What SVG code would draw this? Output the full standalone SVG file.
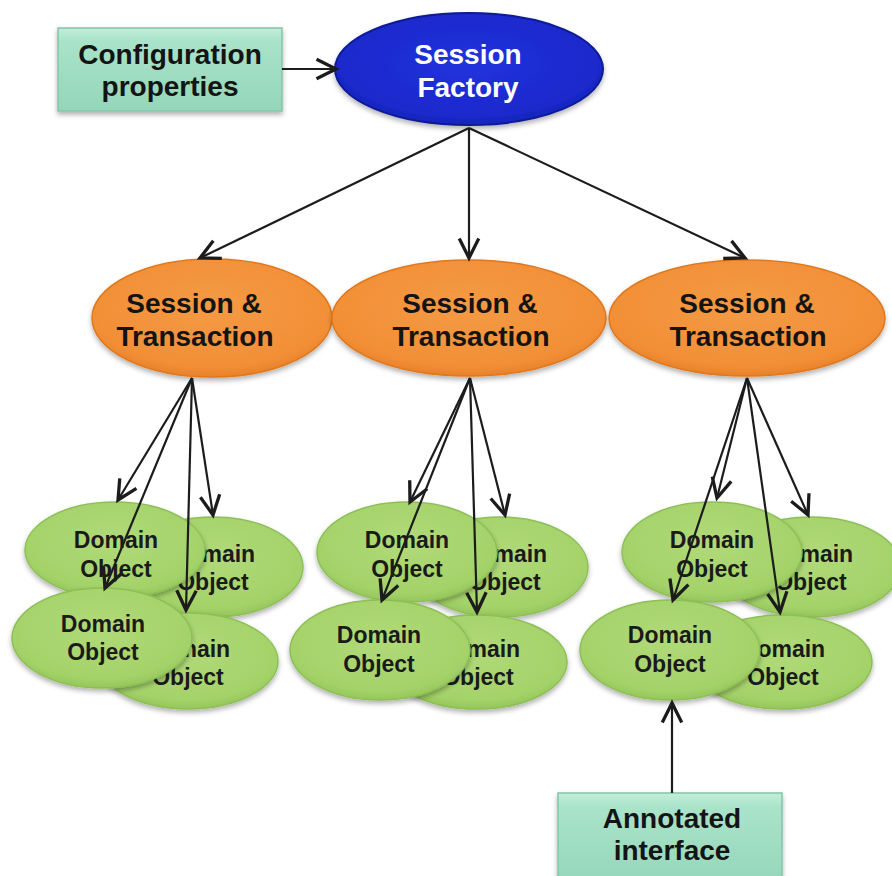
<svg xmlns="http://www.w3.org/2000/svg" width="892" height="876" viewBox="0 0 892 876">
  <defs>
    <style>
      .big { font-family: "Liberation Sans", Arial, sans-serif; font-weight: bold; font-size: 28px; text-anchor: middle; fill: #141414; }
      .white { fill: #ffffff; }
      .dom { font-family: "Liberation Sans", Arial, sans-serif; font-weight: bold; font-size: 23px; text-anchor: middle; fill: #1a1a1a; }
      .box { fill: url(#mint); stroke: #86c4a9; stroke-width: 1.5; filter: url(#shadow); }
      .factory { fill: url(#blue); stroke: #0d1a96; stroke-width: 2; filter: url(#shadow); }
      .session { fill: url(#orange); stroke: #e0781f; stroke-width: 1.5; filter: url(#shadow); }
      .domain { fill: url(#green); stroke: #8cbf56; stroke-width: 1.5; filter: url(#shadow); }
      .conn { fill: none; stroke: #1c1c1c; stroke-width: 2.2; marker-end: url(#arrow); }
    </style>
    <linearGradient id="mint" x1="0" y1="0" x2="0" y2="1">
      <stop offset="0" stop-color="#c3eedb"/>
      <stop offset="0.15" stop-color="#a9e3ca"/>
      <stop offset="1" stop-color="#94d6b9"/>
    </linearGradient>
    <radialGradient id="blue" cx="0.5" cy="0.45" r="0.6">
      <stop offset="0" stop-color="#2232dc"/>
      <stop offset="0.8" stop-color="#1b29cc"/>
      <stop offset="1" stop-color="#1020a8"/>
    </radialGradient>
    <radialGradient id="orange" cx="0.5" cy="0.4" r="0.6">
      <stop offset="0" stop-color="#f49a45"/>
      <stop offset="0.85" stop-color="#f28f36"/>
      <stop offset="1" stop-color="#e8822a"/>
    </radialGradient>
    <radialGradient id="green" cx="0.5" cy="0.4" r="0.6">
      <stop offset="0" stop-color="#b0da78"/>
      <stop offset="0.85" stop-color="#a4d26a"/>
      <stop offset="1" stop-color="#95c65a"/>
    </radialGradient>
    <filter id="shadow" x="-10%" y="-10%" width="120%" height="130%">
      <feDropShadow dx="0" dy="3" stdDeviation="2.5" flood-color="#000" flood-opacity="0.3"/>
    </filter>
    <marker id="arrow" markerUnits="userSpaceOnUse" markerWidth="30" markerHeight="30" viewBox="-16 -10 20 20" refX="0" refY="0" orient="auto">
      <path d="M-13,-6.5 L0,0 L-13,6.5" fill="none" stroke="#1c1c1c" stroke-width="2.2"/>
    </marker>
  </defs>

  <rect width="892" height="876" fill="#ffffff"/>

  <!-- top row -->
  <g id="config">
    <rect class="box" x="58" y="28" width="224" height="83"/>
    <text class="big" x="170" y="64">Configuration</text>
    <text class="big" x="170" y="96">properties</text>
  </g>
  <g id="factory">
    <ellipse class="factory" cx="469" cy="69" rx="134" ry="56"/>
    <text class="big white" x="468" y="64">Session</text>
    <text class="big white" x="468" y="97">Factory</text>
  </g>

  <!-- session & transaction row -->
  <g id="session1">
    <ellipse class="session" cx="212" cy="318" rx="120" ry="59"/>
    <text class="big" x="194" y="313">Session &amp;</text>
    <text class="big" x="195" y="346">Transaction</text>
  </g>
  <g id="session2">
    <ellipse class="session" cx="469" cy="318" rx="137" ry="58"/>
    <text class="big" x="470" y="313">Session &amp;</text>
    <text class="big" x="471" y="346">Transaction</text>
  </g>
  <g id="session3">
    <ellipse class="session" cx="747" cy="318" rx="138" ry="58"/>
    <text class="big" x="747" y="313">Session &amp;</text>
    <text class="big" x="748" y="346">Transaction</text>
  </g>

  <!-- domain objects, cluster 1 -->
  <g id="domain1-tr">
    <ellipse class="domain" cx="213" cy="567" rx="90" ry="50"/>
    <text class="dom" x="213" y="562">Domain</text>
    <text class="dom" x="213" y="590">Object</text>
  </g>
  <g id="domain1-br">
    <ellipse class="domain" cx="188" cy="661" rx="90" ry="48"/>
    <text class="dom" x="188" y="657">Domain</text>
    <text class="dom" x="188" y="685">Object</text>
  </g>
  <g id="domain1-tl">
    <ellipse class="domain" cx="115" cy="550" rx="90" ry="48"/>
    <text class="dom" x="116" y="548">Domain</text>
    <text class="dom" x="116" y="577">Object</text>
  </g>
  <g id="domain1-bl">
    <ellipse class="domain" cx="102" cy="638" rx="90" ry="50"/>
    <text class="dom" x="103" y="632">Domain</text>
    <text class="dom" x="103" y="660">Object</text>
  </g>

  <!-- domain objects, cluster 2 -->
  <g id="domain2-tr">
    <ellipse class="domain" cx="500" cy="567" rx="88" ry="50"/>
    <text class="dom" x="505" y="562">Domain</text>
    <text class="dom" x="505" y="590">Object</text>
  </g>
  <g id="domain2-br">
    <ellipse class="domain" cx="477" cy="662" rx="90" ry="47"/>
    <text class="dom" x="478" y="657">Domain</text>
    <text class="dom" x="478" y="685">Object</text>
  </g>
  <g id="domain2-tl">
    <ellipse class="domain" cx="407" cy="552" rx="90" ry="50"/>
    <text class="dom" x="407" y="548">Domain</text>
    <text class="dom" x="407" y="577">Object</text>
  </g>
  <g id="domain2-bl">
    <ellipse class="domain" cx="380" cy="650" rx="90" ry="50"/>
    <text class="dom" x="379" y="643">Domain</text>
    <text class="dom" x="379" y="672">Object</text>
  </g>

  <!-- domain objects, cluster 3 -->
  <g id="domain3-tr">
    <ellipse class="domain" cx="811" cy="567" rx="90" ry="50"/>
    <text class="dom" x="811" y="562">Domain</text>
    <text class="dom" x="811" y="590">Object</text>
  </g>
  <g id="domain3-br">
    <ellipse class="domain" cx="782" cy="662" rx="90" ry="47"/>
    <text class="dom" x="783" y="657">Domain</text>
    <text class="dom" x="783" y="685">Object</text>
  </g>
  <g id="domain3-tl">
    <ellipse class="domain" cx="712" cy="552" rx="90" ry="50"/>
    <text class="dom" x="712" y="548">Domain</text>
    <text class="dom" x="712" y="577">Object</text>
  </g>
  <g id="domain3-bl">
    <ellipse class="domain" cx="670" cy="650" rx="90" ry="50"/>
    <text class="dom" x="670" y="643">Domain</text>
    <text class="dom" x="670" y="672">Object</text>
  </g>

  <g id="annotated">
    <rect class="box" x="558" y="793" width="224" height="95"/>
    <text class="big" x="672" y="828">Annotated</text>
    <text class="big" x="672" y="860">interface</text>
  </g>

  <!-- connectors -->
  <g id="connectors">
    <line class="conn" x1="282" y1="69" x2="336" y2="69"/>
    <line class="conn" x1="469" y1="128" x2="200" y2="258"/>
    <line class="conn" x1="469" y1="128" x2="469" y2="258"/>
    <line class="conn" x1="469" y1="128" x2="745" y2="258"/>

    <line class="conn" x1="192" y1="378" x2="118" y2="500"/>
    <line class="conn" x1="192" y1="378" x2="213" y2="515"/>
    <line class="conn" x1="192" y1="378" x2="105" y2="588"/>
    <line class="conn" x1="192" y1="378" x2="186" y2="610"/>

    <line class="conn" x1="470" y1="378" x2="410" y2="502"/>
    <line class="conn" x1="470" y1="378" x2="505" y2="515"/>
    <line class="conn" x1="470" y1="378" x2="382" y2="600"/>
    <line class="conn" x1="470" y1="378" x2="477" y2="612"/>

    <line class="conn" x1="747" y1="378" x2="717" y2="498"/>
    <line class="conn" x1="747" y1="378" x2="808" y2="515"/>
    <line class="conn" x1="747" y1="378" x2="673" y2="600"/>
    <line class="conn" x1="747" y1="378" x2="780" y2="612"/>

    <line class="conn" x1="672" y1="793" x2="672" y2="703"/>
  </g>
</svg>
